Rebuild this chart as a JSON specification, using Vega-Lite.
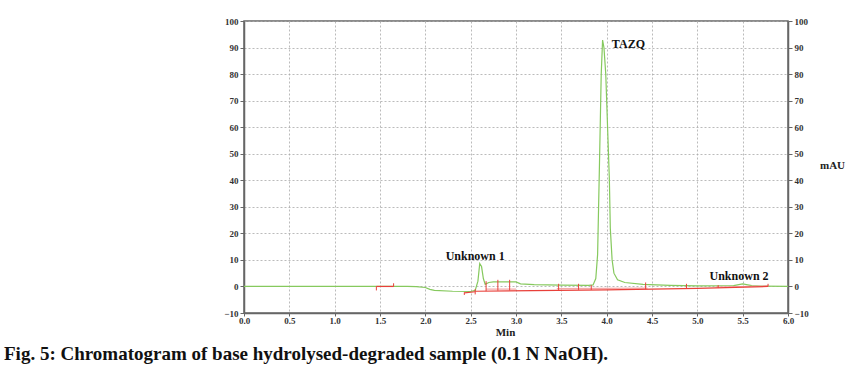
{
  "$schema": "https://vega.github.io/schema/vega-lite/v6.json",
  "autosize": {"type": "none"},
  "width": 544,
  "height": 292,
  "padding": {"left": 244, "top": 21, "right": 60, "bottom": 55},
  "background": "white",
  "config": {
    "font": "Liberation Serif",
    "view": {"stroke": "#666666", "strokeWidth": 1.5},
    "axis": {
      "labelFont": "Liberation Serif",
      "labelFontWeight": "bold",
      "labelFontSize": 9,
      "labelColor": "#333333",
      "titleFont": "Liberation Serif",
      "titleFontWeight": "bold",
      "titleFontSize": 11,
      "titleColor": "#222222",
      "domainColor": "#666666",
      "domainWidth": 1.5,
      "tickColor": "#666666",
      "tickSize": 4,
      "gridColor": "#aaaaaa",
      "gridDash": [2, 2],
      "gridWidth": 0.8
    }
  },
  "title": {
    "text": "Fig. 5: Chromatogram of base hydrolysed-degraded sample (0.1 N NaOH).",
    "orient": "bottom",
    "anchor": "start",
    "frame": "group",
    "dx": -240,
    "offset": 8,
    "font": "Liberation Serif",
    "fontSize": 19,
    "fontWeight": "bold",
    "color": "#111111"
  },
  "datasets": {
    "green": [
      {"t": 0.0, "v": 0}, {"t": 1.8, "v": 0}, {"t": 1.9, "v": -0.1}, {"t": 2.0, "v": -0.4},
      {"t": 2.05, "v": -1.1}, {"t": 2.1, "v": -1.5}, {"t": 2.3, "v": -1.8}, {"t": 2.5, "v": -1.9},
      {"t": 2.55, "v": -1.5}, {"t": 2.58, "v": 2.0}, {"t": 2.6, "v": 8.6}, {"t": 2.62, "v": 7.5},
      {"t": 2.64, "v": 3.0}, {"t": 2.66, "v": 0.8}, {"t": 2.7, "v": 1.5}, {"t": 2.75, "v": 1.7},
      {"t": 3.0, "v": 1.7}, {"t": 3.05, "v": 1.0}, {"t": 3.2, "v": 0.7}, {"t": 3.5, "v": 0.5},
      {"t": 3.8, "v": 0.4}, {"t": 3.85, "v": 0.6}, {"t": 3.88, "v": 3.0}, {"t": 3.9, "v": 12},
      {"t": 3.92, "v": 45}, {"t": 3.94, "v": 80}, {"t": 3.955, "v": 92.8}, {"t": 3.97, "v": 90},
      {"t": 3.99, "v": 80}, {"t": 4.01, "v": 60}, {"t": 4.03, "v": 40}, {"t": 4.04, "v": 22},
      {"t": 4.06, "v": 10}, {"t": 4.08, "v": 5}, {"t": 4.12, "v": 2.5}, {"t": 4.2, "v": 1.5},
      {"t": 4.4, "v": 0.8}, {"t": 4.7, "v": 0.4}, {"t": 5.0, "v": 0.2}, {"t": 5.4, "v": 0.3},
      {"t": 5.5, "v": 1.0}, {"t": 5.6, "v": 0.3}, {"t": 5.7, "v": 0.1}, {"t": 6.0, "v": 0}
    ],
    "red": [
      {"seg": "a", "t": 1.46, "v": 0}, {"seg": "a", "t": 1.65, "v": 0},
      {"seg": "b", "t": 2.43, "v": -2.4}, {"seg": "b", "t": 2.55, "v": -2.0},
      {"seg": "c", "t": 2.55, "v": -1.8}, {"seg": "c", "t": 4.0, "v": -1.3},
      {"seg": "c", "t": 5.0, "v": -0.7}, {"seg": "c", "t": 5.78, "v": 0}
    ],
    "pink": [
      {"seg": "p1", "t": 2.67, "v": -1.0}, {"seg": "p1", "t": 3.0, "v": -1.0},
      {"seg": "p2", "t": 3.45, "v": -0.8}, {"seg": "p2", "t": 4.45, "v": -0.6},
      {"seg": "p3", "t": 5.2, "v": -0.2}, {"seg": "p3", "t": 5.78, "v": 0.2}
    ],
    "ticks": [
      {"t": 1.46, "v": 0, "v2": -1.5}, {"t": 1.65, "v": 0, "v2": 1.2},
      {"t": 2.43, "v": -2.2, "v2": -3.2}, {"t": 2.55, "v": -1.0, "v2": -3.0},
      {"t": 2.67, "v": -1.8, "v2": 2.0}, {"t": 2.8, "v": -1.6, "v2": 2.5},
      {"t": 2.93, "v": -1.5, "v2": 2.5}, {"t": 3.47, "v": -1.4, "v2": 1.0},
      {"t": 3.69, "v": -1.3, "v2": 1.0}, {"t": 3.83, "v": -1.3, "v2": 0.5},
      {"t": 4.43, "v": -1.0, "v2": 1.5}, {"t": 4.88, "v": -0.8, "v2": 1.0},
      {"t": 5.23, "v": -0.6, "v2": 0.5}, {"t": 5.78, "v": 0, "v2": 1.0}
    ],
    "labels": [
      {"t": 2.55, "v": 11.4, "label": "Unknown 1"},
      {"t": 4.24, "v": 91.4, "label": "TAZQ"},
      {"t": 5.46, "v": 3.9, "label": "Unknown 2"}
    ]
  },
  "layer": [
    {
      "data": {"name": "green"},
      "mark": {"type": "line", "color": "#86c95e", "strokeWidth": 1.2},
      "encoding": {
        "x": {
          "field": "t", "type": "quantitative",
          "scale": {"domain": [0, 6], "nice": false},
          "axis": {
            "values": [0, 0.25, 0.5, 0.75, 1, 1.25, 1.5, 1.75, 2, 2.25, 2.5, 2.75, 3, 3.25, 3.5, 3.75, 4, 4.25, 4.5, 4.75, 5, 5.25, 5.5, 5.75, 6],
            "labelExpr": "round(datum.value*4) % 2 == 0 ? format(datum.value, '.1f') : ''",
            "labelFlush": false,
            "title": "Min",
            "titleX": 261,
            "titleY": 13,
            "titleBaseline": "top",
            "labelPadding": 0,
            "tickSize": 3
          }
        },
        "y": {
          "field": "v", "type": "quantitative",
          "scale": {"domain": [-10, 100], "nice": false},
          "axis": {
            "orient": "left",
            "values": [-10, 0, 10, 20, 30, 40, 50, 60, 70, 80, 90, 100],
            "title": null,
            "labelPadding": 2
          }
        }
      }
    },
    {
      "data": {"name": "pink"},
      "mark": {"type": "line", "color": "#f5a8a8", "strokeWidth": 1.2},
      "encoding": {
        "x": {"field": "t", "type": "quantitative"},
        "y": {"field": "v", "type": "quantitative", "axis": null},
        "detail": {"field": "seg"}
      }
    },
    {
      "data": {"name": "red"},
      "mark": {"type": "line", "color": "#e8403a", "strokeWidth": 1.2},
      "encoding": {
        "x": {"field": "t", "type": "quantitative"},
        "y": {"field": "v", "type": "quantitative", "axis": null},
        "detail": {"field": "seg"}
      }
    },
    {
      "data": {"name": "ticks"},
      "mark": {"type": "rule", "color": "#e8403a", "strokeWidth": 1},
      "encoding": {
        "x": {"field": "t", "type": "quantitative"},
        "y": {"field": "v", "type": "quantitative", "axis": null},
        "y2": {"field": "v2"}
      }
    },
    {
      "data": {"name": "labels"},
      "mark": {"type": "text", "font": "Liberation Serif", "fontSize": 12, "fontWeight": "bold", "color": "#111111"},
      "encoding": {
        "x": {"field": "t", "type": "quantitative"},
        "y": {
          "field": "v", "type": "quantitative",
          "axis": {
            "orient": "right",
            "values": [-10, 0, 10, 20, 30, 40, 50, 60, 70, 80, 90, 100],
            "grid": false,
            "title": "mAU",
            "titleAngle": 0,
            "titleAlign": "center",
            "titleBaseline": "middle",
            "titleX": 44,
            "titleY": 144,
            "labelPadding": 2
          }
        },
        "text": {"field": "label"}
      }
    }
  ],
  "resolve": {"axis": {"y": "independent"}}
}
